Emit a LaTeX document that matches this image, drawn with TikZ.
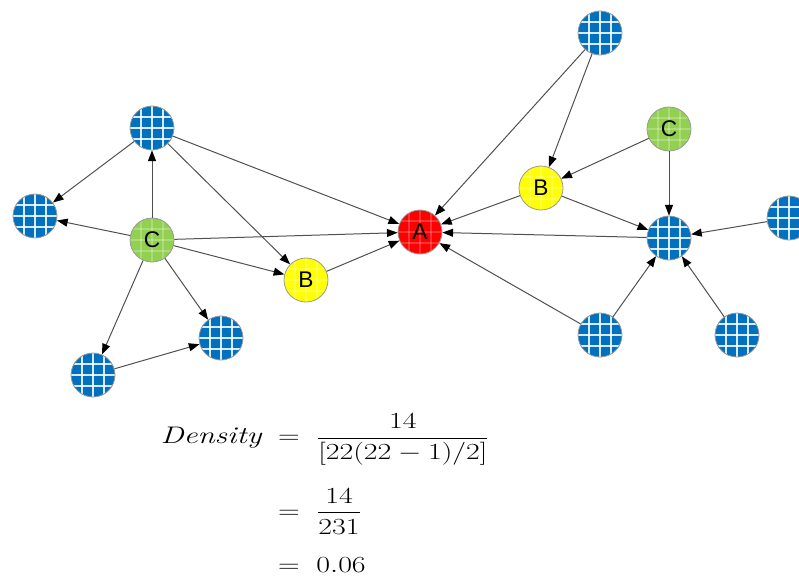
\documentclass[tikz,border=0pt]{standalone}
\usepackage{amsmath}
\usepackage{graphicx}
\usepackage{fontspec}
\newfontfamily\labelfont{Liberation Sans}
\usetikzlibrary{arrows.meta}

\definecolor{gridblue}{RGB}{0,112,192}
\definecolor{gridgreen}{RGB}{146,208,80}
\definecolor{gridyellow}{RGB}{255,255,0}
\definecolor{gridred}{RGB}{255,0,0}
\definecolor{edgegray}{RGB}{80,80,80}

\tikzset{every picture/.style={line width=0.75pt}}
\tikzset{
	netnode/.style 2 args={circle, draw=gray!80, line width=0.6pt, minimum size=33pt, inner sep=0pt,
		fill=#1, font=\labelfont\fontsize{17}{17}\selectfont,
		path picture={
			\foreach \k in {-1,0,1} {
				\draw[white, opacity=#2, line width=1.5pt] ([xshift=\k*8.6pt]path picture bounding box.north) -- ([xshift=\k*8.6pt]path picture bounding box.south);
				\draw[white, opacity=#2, line width=1.5pt] ([yshift=\k*8.6pt]path picture bounding box.west) -- ([yshift=\k*8.6pt]path picture bounding box.east);
			}
		}},
	blue node/.style={netnode={gridblue}{0.85}},
	green node/.style={netnode={gridgreen}{0.25}},
	yellow node/.style={netnode={gridyellow}{0.25}},
	red node/.style={netnode={gridred}{0.2}},
	link/.style={draw=edgegray, line width=0.75pt, -{Triangle[length=8pt,width=6pt,color=black]}},
}

\begin{document}
\begin{tikzpicture}[x=0.75pt,y=0.75pt,yscale=-1,xscale=1]
	\useasboundingbox (0,0) rectangle (799,583);
	
	%Shape: Circle [left group]
	\node [blue node] (topL) at (152,128) {};
	\node [blue node] (farL) at (35,216) {};
	\node [green node] (cL) at (152,240) {C};
	\node [yellow node] (bL) at (306,280) {B};
	\node [blue node] (midL) at (221,338) {};
	\node [blue node] (lowL) at (93,375) {};
	
	%Shape: Circle [centre]
	\node [red node] (a) at (420,232) {A};
	
	%Shape: Circle [right group]
	\node [blue node] (topR) at (600,33) {};
	\node [green node] (cR) at (669,129) {C};
	\node [yellow node] (bR) at (541,188) {B};
	\node [blue node] (hubR) at (669,238) {};
	\node [blue node] (farR) at (789,218) {};
	\node [blue node] (lowR1) at (600,335) {};
	\node [blue node] (lowR2) at (737,335) {};
	
	%Straight Lines [left group]
	\draw [link] (topL) -- (farL);
	\draw [link] (cL) -- (topL);
	\draw [link] (topL) -- (a);
	\draw [link] (topL) -- (bL);
	\draw [link] (cL) -- (farL);
	\draw [link] (cL) -- (a);
	\draw [link] (cL) -- (bL);
	\draw [link] (cL) -- (midL);
	\draw [link] (cL) -- (lowL);
	\draw [link] (lowL) -- (midL);
	\draw [link] (bL) -- (a);
	
	%Straight Lines [right group]
	\draw [link] (topR) -- (a);
	\draw [link] (topR) -- (bR);
	\draw [link] (cR) -- (bR);
	\draw [link] (cR) -- (hubR);
	\draw [link] (bR) -- (a);
	\draw [link] (bR) -- (hubR);
	\draw [link] (hubR) -- (a);
	\draw [link] (farR) -- (hubR);
	\draw [link] (lowR1) -- (hubR);
	\draw [link] (lowR2) -- (hubR);
	\draw [link] (lowR1) -- (a);
	
	% Text Node
	\node [anchor=north west, inner sep=0pt, font=\fontsize{18}{22}\selectfont] (density) at (160,413)
		{\scalebox{1.3}[1]{$\begin{aligned}
			\mathit{Density} \;&=\; \frac{14}{[22(22-1)/2]}\\[13pt]
			&=\; \frac{14}{231}\\[9pt]
			&=\; 0.06
		\end{aligned}$}};
	
\end{tikzpicture}
\end{document}
